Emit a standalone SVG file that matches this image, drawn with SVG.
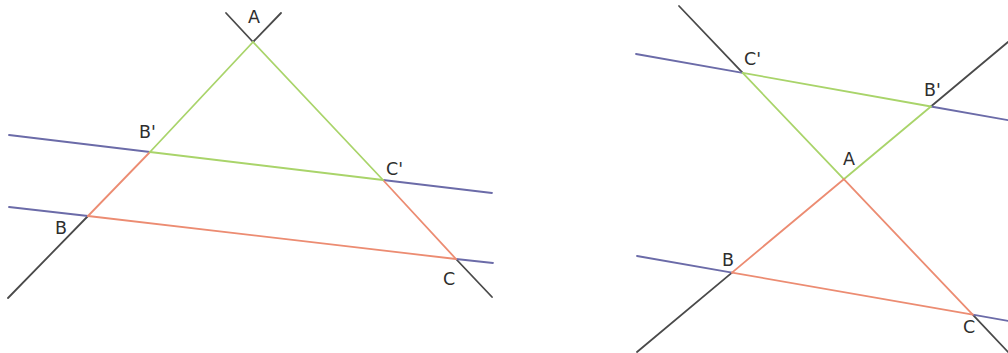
<svg xmlns="http://www.w3.org/2000/svg" width="1008" height="353" viewBox="0 0 1008 353">
<style>
line{stroke-width:1.8;stroke-linecap:round;fill:none}
.k{stroke:#4a4a4a}
.b{stroke:#6b6ba8}
.g{stroke:#a9d46a}
.o{stroke:#ec8c72}
text{font-family:"DejaVu Sans","Liberation Sans",sans-serif;font-size:17.5px;fill:#2e2e2e}
</style>
<rect width="1008" height="353" fill="#fff"/>
<g id="figure-left">
<g id="left-lines">
<line class="k" x1="8" y1="298" x2="88" y2="216"/>
<line class="k" x1="253" y1="42" x2="281" y2="13"/>
<line class="k" x1="253" y1="42" x2="226" y2="13"/>
<line class="k" x1="456" y1="259" x2="492" y2="297"/>
<line class="b" x1="9" y1="135" x2="150" y2="152"/>
<line class="b" x1="383" y1="180" x2="492" y2="193"/>
<line class="b" x1="9" y1="207" x2="88" y2="216"/>
<line class="b" x1="456" y1="259" x2="493" y2="263"/>
<line class="o" x1="150" y1="152" x2="88" y2="216"/>
<line class="o" x1="383" y1="180" x2="456" y2="259"/>
<line class="o" x1="88" y1="216" x2="456" y2="259"/>
<line class="g" x1="253" y1="42" x2="150" y2="152"/>
<line class="g" x1="253" y1="42" x2="383" y2="180"/>
<line class="g" x1="150" y1="152" x2="383" y2="180"/>
</g>
<text x="254" y="23" text-anchor="middle">A</text>
<text x="139" y="138">B'</text>
<text x="386" y="175">C'</text>
<text x="55" y="234">B</text>
<text x="443" y="285">C</text>
</g>
<g id="figure-right">
<g id="right-lines">
<line class="k" x1="679" y1="6" x2="742.7" y2="72.9"/>
<line class="k" x1="637" y1="352" x2="732" y2="272.6"/>
<line class="k" x1="930.9" y1="106.5" x2="1008" y2="42"/>
<line class="k" x1="972.7" y1="314.7" x2="1008" y2="352"/>
<line class="b" x1="636" y1="54" x2="742.7" y2="72.9"/>
<line class="b" x1="930.9" y1="106.5" x2="1008" y2="120.2"/>
<line class="b" x1="637" y1="256" x2="732" y2="272.6"/>
<line class="b" x1="972.7" y1="314.7" x2="1008" y2="320.9"/>
<line class="g" x1="742.7" y1="72.9" x2="930.9" y2="106.5"/>
<line class="g" x1="742.7" y1="72.9" x2="843.8" y2="179.2"/>
<line class="g" x1="843.8" y1="179.2" x2="930.9" y2="106.5"/>
<line class="o" x1="843.8" y1="179.2" x2="732" y2="272.6"/>
<line class="o" x1="843.8" y1="179.2" x2="972.7" y2="314.7"/>
<line class="o" x1="732" y1="272.6" x2="972.7" y2="314.7"/>
</g>
<text x="744" y="65">C'</text>
<text x="924" y="96">B'</text>
<text x="849" y="165" text-anchor="middle">A</text>
<text x="722" y="266">B</text>
<text x="963" y="333">C</text>
</g>
</svg>
